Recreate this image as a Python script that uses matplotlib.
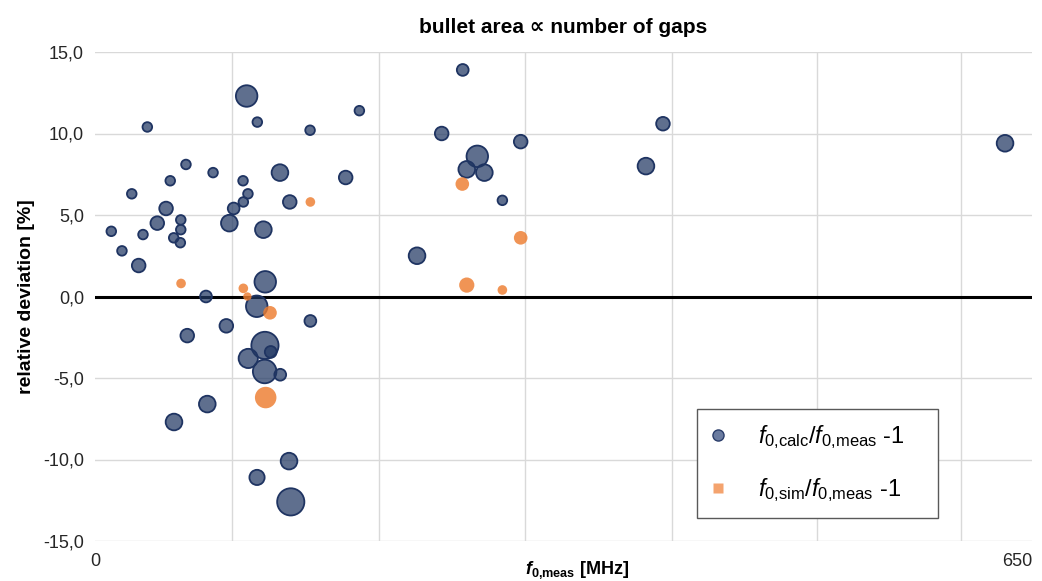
import numpy as np
import matplotlib.pyplot as plt
from matplotlib.lines import Line2D

plt.rcParams['font.family'] = ['Liberation Sans', 'DejaVu Sans']
plt.rcParams['mathtext.fontset'] = 'custom'
plt.rcParams['mathtext.rm'] = 'Liberation Sans'
plt.rcParams['mathtext.it'] = 'Liberation Sans:italic'
plt.rcParams['mathtext.bf'] = 'Liberation Sans:bold'
plt.rcParams['mathtext.bfit'] = 'Liberation Sans:bold:italic'

# calc / meas  (x = f0,meas in MHz, y = deviation in %, gaps = bullet area)
f_calc = [105.2, 112.6, 183.4, 36.3, 149.2, 63.1, 81.9, 52.2, 102.7, 128.3,
          173.9, 25.5, 106.1, 102.9, 135.1, 49.3, 96.2, 59.5, 59.5, 59.2,
          43.2, 93.2, 116.8, 11.3, 33.3, 54.6, 18.7, 30.3, 118.1, 77.0,
          112.2, 149.4, 91.1, 64.0, 117.9, 121.9, 106.3, 117.7, 128.5, 77.9,
          54.8, 134.6, 112.4, 135.8, 255.1, 240.5, 295.3, 394.0, 382.2, 265.2,
          257.9, 270.1, 282.6, 223.4, 631.3]
dev_calc = [12.3, 10.7, 11.4, 10.4, 10.2, 8.1, 7.6, 7.1, 7.1, 7.6,
            7.3, 6.3, 6.3, 5.8, 5.8, 5.4, 5.4, 4.7, 4.1, 3.3,
            4.5, 4.5, 4.1, 4.0, 3.8, 3.6, 2.8, 1.9, 0.9, 0.0,
            -0.6, -1.5, -1.8, -2.4, -3.0, -3.4, -3.8, -4.6, -4.8, -6.6,
            -7.7, -10.1, -11.1, -12.6, 13.9, 10.0, 9.5, 10.6, 8.0, 8.6,
            7.8, 7.6, 5.9, 2.5, 9.4]
gaps_calc = [10, 2, 2, 2, 2, 2, 2, 2, 2, 6,
             4, 2, 2, 2, 4, 4, 3, 2, 2, 2,
             4, 6, 6, 2, 2, 2, 2, 4, 10, 3,
             10, 3, 4, 4, 16, 3, 8, 12, 3, 6,
             6, 6, 5, 16, 3, 4, 4, 4, 6, 10,
             6, 6, 2, 6, 6]

# sim / meas
f_sim = [149.4, 59.7, 102.9, 105.7, 121.4, 118.4, 254.8, 295.3, 257.9, 282.6]
dev_sim = [5.8, 0.8, 0.5, 0.0, -1.0, -6.2, 6.9, 3.6, 0.7, 0.4]
gaps_sim = [2, 2, 2, 1.5, 4, 10, 4, 4, 5, 2]

grid_x = [95, 197, 298, 400, 501, 601]

fig = plt.figure(figsize=(10.42, 5.81), dpi=100)
ax = fig.add_axes([95 / 1042, 1 - 541 / 581, 937 / 1042, 489 / 581])

ax.set_xlim(0, 650)
ax.set_ylim(-15, 15)
for g in grid_x:
    ax.axvline(g, color='#d9d9d9', lw=1, zorder=0)
for yv in np.arange(-15, 16, 5):
    ax.axhline(yv, color='#d9d9d9', lw=1, zorder=0)
ax.axhline(0, color='black', lw=2.2, zorder=1)

k = 24
o = np.argsort(gaps_calc)[::-1]
ax.scatter(np.array(f_calc)[o], np.array(dev_calc)[o], s=np.array(gaps_calc)[o] * k,
           facecolor=(0.13, 0.22, 0.39, 0.72), edgecolor='#1f3462', linewidth=1.3, zorder=3)
o = np.argsort(gaps_sim)[::-1]
ax.scatter(np.array(f_sim)[o], np.array(dev_sim)[o], s=np.array(gaps_sim)[o] * k,
           facecolor=(0.93, 0.49, 0.19, 0.82), edgecolor='none', zorder=4)

for sp in ax.spines.values():
    sp.set_visible(False)
ax.tick_params(length=0, labelsize=13, colors='#262626')
ax.set_yticks(np.arange(-15, 16, 5))
ax.set_yticklabels([f'{v:.1f}'.replace('.', ',') for v in np.arange(-15, 16, 5)])
ax.set_xticks([0, 650])
ax.set_xticklabels(['0', '650'])
ax.get_xticklabels()[1].set_horizontalalignment('right')
ax.tick_params(axis='x', pad=9)
ax.tick_params(axis='y', pad=8)

ax.set_title('bullet area \u221d number of gaps', fontsize=15, fontweight='bold', pad=14)
ax.set_xlabel(r'$\mathbfit{f}_{\mathbf{0{,}meas}}$ [MHz]', fontsize=13, fontweight='bold')
ax.xaxis.set_label_coords(0.515, -0.036)
ax.set_ylabel('relative deviation [%]', fontsize=14, fontweight='bold', labelpad=6)

handles = [
    Line2D([], [], ls='none', marker='o', ms=8, mfc='#6a7ba0', mec='#2a3d6a', mew=1),
    Line2D([], [], ls='none', marker='s', ms=7, mfc='#f4a36e', mec='none'),
]
labels = [r'$f_{0{,}\mathrm{calc}}/f_{0{,}\mathrm{meas}}$ -1',
          r'$f_{0{,}\mathrm{sim}}/f_{0{,}\mathrm{meas}}$ -1']
leg = ax.legend(handles, labels, loc='lower left',
                bbox_to_anchor=(0.6425, 0.047, 241 / 937, 0.22), mode='expand',
                borderaxespad=0, fontsize=17, frameon=True, fancybox=False,
                edgecolor='#595959', framealpha=1, handlelength=0.6, handletextpad=1.4,
                labelspacing=1.05, borderpad=0.6)
leg.get_frame().set_linewidth(1.0)

plt.savefig('out.png', dpi=100)
